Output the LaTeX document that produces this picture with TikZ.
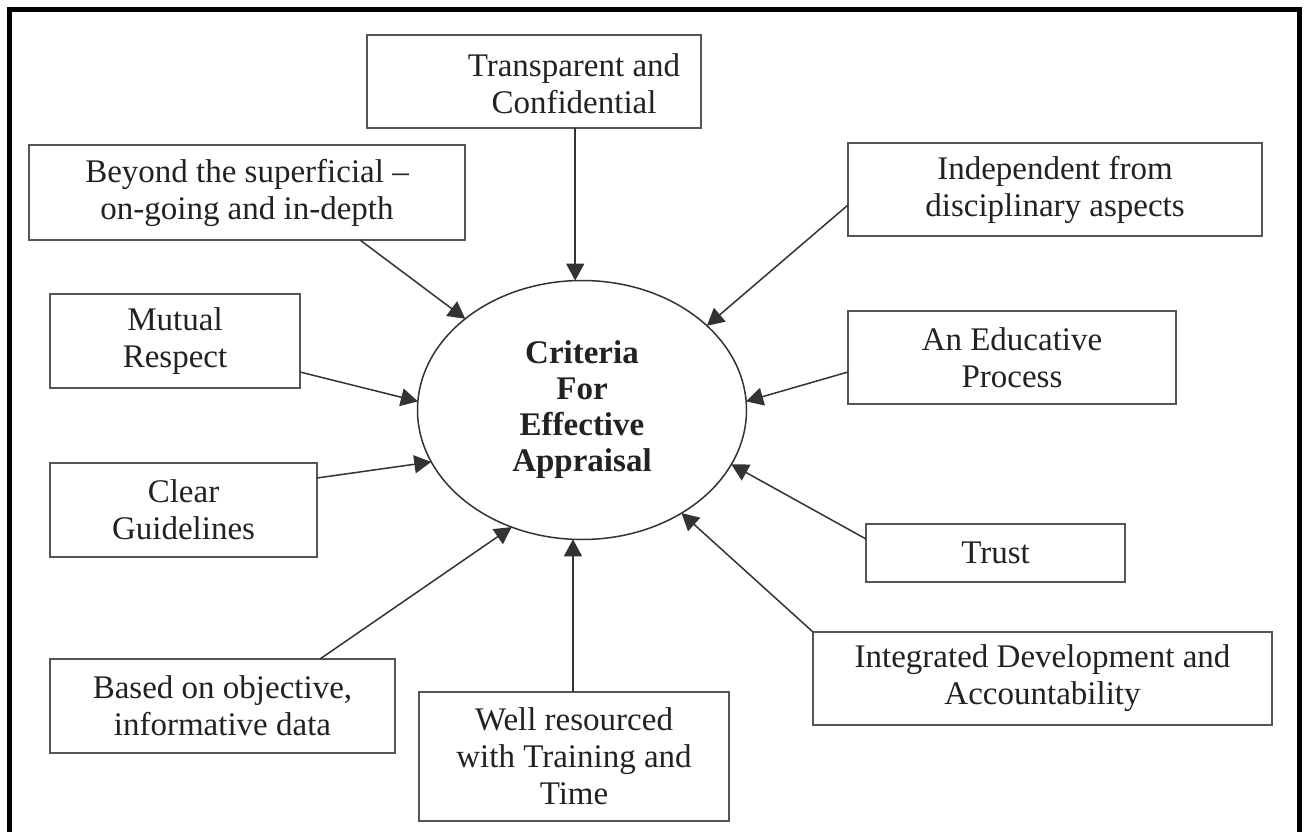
\documentclass[tikz,border=0pt]{standalone}
\usepackage{fontspec}
\setmainfont{Liberation Serif}
\usetikzlibrary{arrows.meta,shapes.geometric}
\definecolor{boxgray}{HTML}{555555}
\definecolor{linegray}{HTML}{333333}
\definecolor{textgray}{HTML}{222222}
\begin{document}
\begin{tikzpicture}[x=1pt,y=-1pt,
  box/.style={draw=boxgray, line width=1.8pt, rectangle, inner sep=0pt, outer sep=0pt,
    align=center, text=textgray, font=\fontsize{33}{37}\selectfont},
  lbl/.style={inner sep=0pt, align=center, text=textgray, font=\fontsize{33}{37}\selectfont},
  ell/.style={ellipse, draw=linegray, line width=1.5pt, minimum width=329pt, minimum height=259pt,
    inner sep=0pt, outer sep=0pt, align=center, text=textgray,
    font=\bfseries\fontsize{33}{36}\selectfont},
  arr/.style={draw=linegray, line width=1.5pt, -{Triangle[length=17pt,width=18pt]}},
  frame/.style={draw=black, line width=4.5pt}
]
\useasboundingbox (0,0) rectangle (1304,832);
\fill[white] (0,0) rectangle (1304,832);
\draw[frame] (9.5,832) -- (9.5,9.5) -- (1299.5,9.5) -- (1299.5,832);

\node[ell] (c) at (582,410) {Criteria\\For\\Effective\\Appraisal};

\node[box, minimum width=334pt, minimum height=93pt] (t) at (534,81.5) {};
\node[lbl] (tl) at (574,83.5) {Transparent and\\Confidential};
\node[box, minimum width=436pt, minimum height=95pt] (b) at (247,192.5) {Beyond the superficial –\\on-going and in-depth};
\node[box, minimum width=414pt, minimum height=93pt] (i) at (1055,189.5) {Independent from\\disciplinary aspects};
\node[box, minimum width=250pt, minimum height=94pt] (m) at (175,341) {Mutual\\Respect};
\node[box, minimum width=328pt, minimum height=93pt] (e) at (1012,357.5) {An Educative\\Process};
\node[box, minimum width=267pt, minimum height=94pt] (cl) at (183.5,510) {Clear\\Guidelines};
\node[box, minimum width=259pt, minimum height=58pt] (tr) at (995.5,553) {Trust};
\node[box, minimum width=459pt, minimum height=93pt] (ida) at (1042.5,678.5) {Integrated Development and\\Accountability};
\node[box, minimum width=345pt, minimum height=94pt] (ba) at (222.5,706) {Based on objective,\\informative data};
\node[box, minimum width=310pt, minimum height=129pt] (w) at (574,756.5) {Well resourced\\with Training and\\Time};

\draw[arr] (t.south -| c.93.5) -- (c.93.5);
\draw[arr] ([xshift=113pt]b.south) -- (c.142.3);
\draw[arr] ([yshift=-15.5pt]i.west) -- (c.34.9);
\draw[arr] ([yshift=-31pt]m.east) -- (c.177.6);
\draw[arr] ([yshift=-14.5pt]e.west) -- (c.3.5);
\draw[arr] ([yshift=32pt]cl.east) -- (c.199.1);
\draw[arr] ([yshift=14pt]tr.west) -- (c.-20);
\draw[arr] (ida.north west) -- (c.-46.9);
\draw[arr] ([xshift=97.5pt]ba.north) -- (c.-121.6);
\draw[arr] (w.north -| c.-94) -- (c.-94);
\end{tikzpicture}
\end{document}
